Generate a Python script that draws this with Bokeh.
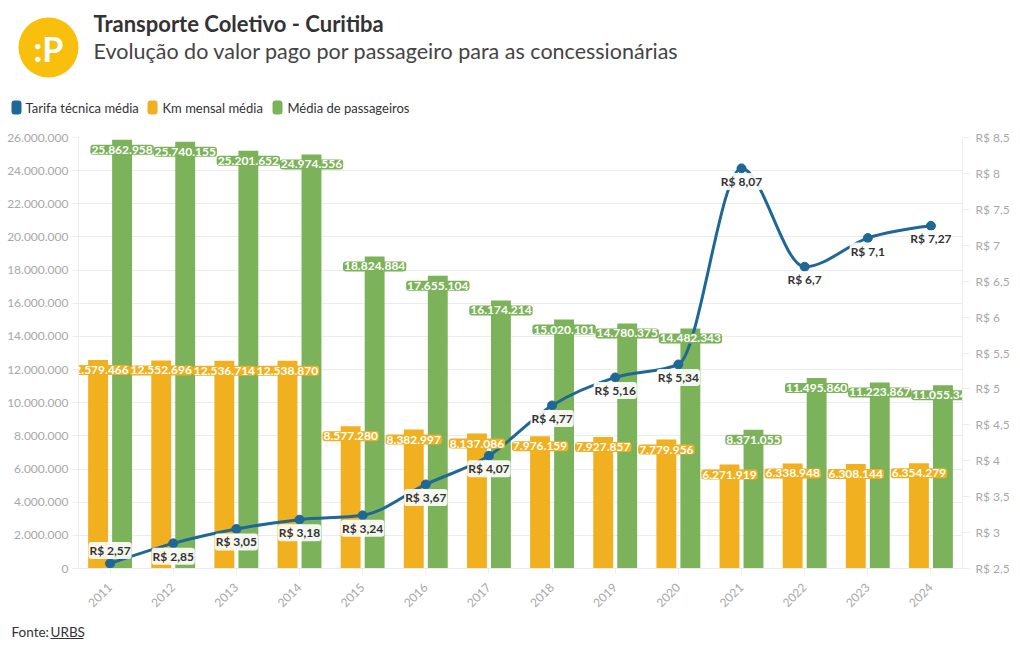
from bokeh.plotting import figure
from bokeh.models import Range1d, LinearAxis, FixedTicker, ColumnDataSource
from bokeh.embed import file_html
from bokeh.resources import INLINE
from bokeh.core.properties import value
import math

# ---------------- data ----------------
years = ["2011", "2012", "2013", "2014", "2015", "2016", "2017",
         "2018", "2019", "2020", "2021", "2022", "2023", "2024"]
tarifa = [2.57, 2.85, 3.05, 3.18, 3.24, 3.67, 4.07, 4.77, 5.16, 5.34,
          8.07, 6.7, 7.1, 7.27]
km_mensal = [12579466, 12552696, 12536714, 12538870, 8577280, 8382997,
             8137086, 7976159, 7927857, 7779956, 6271919, 6338948,
             6308144, 6354279]
passageiros = [25862958, 25740155, 25201652, 24974556, 18824884, 17655104,
               16174214, 15020101, 14780375, 14482343, 8371055, 11495860,
               11223867, 11055340]
left_ticks = [i * 2000000 for i in range(14)]
right_ticks = [2.5, 3, 3.5, 4, 4.5, 5, 5.5, 6, 6.5, 7, 7.5, 8, 8.5]
series_names = ["Tarifa técnica média", "Km mensal média", "Média de passageiros"]

# ---------------- style ----------------
FONT = "Lato"
BLUE = "#1f6795"
ORANGE = "#f0b020"
GREEN = "#7cb25a"
DARK = "#333333"
GREY = "#a8a8a8"
GRID = "#ececec"
W = 1012


def fmt_int(n):
    return f"{n:,}".replace(",", ".")


def fmt_real(v):
    s = f"{v:g}".replace(".", ",")
    return "R$ " + s


def blank(h):
    f = figure(width=W, height=h, x_range=Range1d(0, W), y_range=Range1d(h, 0),
               output_backend="svg", toolbar_location=None, min_border=0)
    f.axis.visible = False
    f.grid.visible = False
    f.outline_line_color = None
    return f


# ---------------- header ----------------
hdr = blank(120)
hdr.circle(x=[48], y=[47], radius=30, fill_color="#f9bf0d", line_color=None)
hdr.text(x=[48], y=[48], text=[":P"], text_font=value(FONT), text_font_style="bold",
         text_font_size="34px", text_color="white", text_align="center",
         text_baseline="middle")
hdr.text(x=[93], y=[23], text=["Transporte Coletivo - Curitiba"], text_font=value(FONT),
         text_font_style="bold", text_font_size="22px", text_color=DARK,
         text_baseline="middle")
hdr.text(x=[93], y=[50], text=["Evolução do valor pago por passageiro para as concessionárias"],
         text_font=value(FONT), text_font_size="21.5px", text_color="#444444",
         text_baseline="middle")
leg_sq_x = [16, 152, 277]
leg_tx_x = [25, 162, 287]
hdr.rect(x=leg_sq_x, y=[107, 107, 107], width=10, height=14, fill_color=[BLUE, ORANGE, GREEN],
         line_color=None, border_radius=3)
hdr.text(x=leg_tx_x, y=[107, 107, 107], text=series_names, text_font=value(FONT),
         text_font_size="13px", text_color=DARK, text_baseline="middle")

# ---------------- main chart ----------------
n = len(years)
xs = list(range(n))
p = figure(width=W, height=495, x_range=Range1d(-0.5, n - 0.5),
           y_range=Range1d(0, 26000000), output_backend="svg",
           toolbar_location=None, min_border_left=78, min_border_right=48,
           min_border_top=17, min_border_bottom=47)
p.extra_y_ranges = {"tarifa": Range1d(2.5, 8.5)}
p.outline_line_color = None
p.xgrid.visible = False
p.ygrid.grid_line_color = GRID
p.ygrid.ticker = FixedTicker(ticks=left_ticks)

p.yaxis.ticker = FixedTicker(ticks=left_ticks)
p.yaxis.major_label_overrides = {t: fmt_int(t) for t in left_ticks}
p.yaxis.major_tick_out = 6
p.yaxis.major_tick_in = 0
p.yaxis.minor_tick_line_color = None
p.yaxis.major_label_standoff = 4

p.xaxis.ticker = FixedTicker(ticks=xs)
p.xaxis.major_label_overrides = {i: y for i, y in enumerate(years)}
p.xaxis.major_label_orientation = math.pi / 4
p.xaxis.major_tick_out = 5
p.xaxis.major_tick_in = 0
p.xaxis.minor_tick_line_color = None
p.xaxis.major_label_standoff = 12

rax = LinearAxis(y_range_name="tarifa", ticker=FixedTicker(ticks=right_ticks))
rax.major_label_overrides = {t: fmt_real(t) for t in right_ticks}
rax.major_tick_out = 7
rax.major_tick_in = 0
rax.minor_tick_line_color = None
rax.major_label_standoff = 6
p.add_layout(rax, "right")

for ax in [p.xaxis[0], p.yaxis[0], rax]:
    ax.axis_line_color = GRID
    ax.major_tick_line_color = GRID
    ax.major_label_text_color = GREY
    ax.major_label_text_font = FONT
    ax.major_label_text_font_size = "12px"

off = 0.19
bw = 0.315
src = ColumnDataSource(dict(
    xo=[x - off for x in xs], xg=[x + off for x in xs],
    km=km_mensal, ps=passageiros,
    km_t=[fmt_int(v) for v in km_mensal], ps_t=[fmt_int(v) for v in passageiros],
))
p.vbar(x="xo", top="km", width=bw, source=src, fill_color=ORANGE, line_color=None)
p.vbar(x="xg", top="ps", width=bw, source=src, fill_color=GREEN, line_color=None)


# smooth (monotone cubic) line through the tarifa points
def slopes(xv, yv):
    m = len(xv)
    t = [0.0] * m
    for i in range(1, m - 1):
        h0 = xv[i] - xv[i - 1]
        h1 = xv[i + 1] - xv[i]
        s0 = (yv[i] - yv[i - 1]) / h0
        s1 = (yv[i + 1] - yv[i]) / h1
        pp = (s0 * h1 + s1 * h0) / (h0 + h1)
        sg = (1 if s0 > 0 else -1 if s0 < 0 else 0) + (1 if s1 > 0 else -1 if s1 < 0 else 0)
        t[i] = sg * min(abs(s0), abs(s1), 0.5 * abs(pp)) if sg != 0 else 0.0
    h = xv[1] - xv[0]
    t[0] = (3 * (yv[1] - yv[0]) / h - t[1]) / 2
    h = xv[-1] - xv[-2]
    t[-1] = (3 * (yv[-1] - yv[-2]) / h - t[-2]) / 2
    return t


tt = slopes(xs, tarifa)
bz = dict(x0=[], y0=[], x1=[], y1=[], cx0=[], cy0=[], cx1=[], cy1=[])
for i in range(n - 1):
    dx = xs[i + 1] - xs[i]
    bz["x0"].append(xs[i]); bz["y0"].append(tarifa[i])
    bz["x1"].append(xs[i + 1]); bz["y1"].append(tarifa[i + 1])
    bz["cx0"].append(xs[i] + dx / 3); bz["cy0"].append(tarifa[i] + dx * tt[i] / 3)
    bz["cx1"].append(xs[i + 1] - dx / 3); bz["cy1"].append(tarifa[i + 1] - dx * tt[i + 1] / 3)
p.bezier(source=ColumnDataSource(bz), x0="x0", y0="y0", x1="x1", y1="y1",
         cx0="cx0", cy0="cy0", cx1="cx1", cy1="cy1", line_color=BLUE,
         line_width=3, y_range_name="tarifa")
p.scatter(x=xs, y=tarifa, size=9, fill_color=BLUE, line_color=BLUE,
          y_range_name="tarifa")

lab_font = dict(text_font=value(FONT), text_font_style="bold", text_font_size="12px",
                text_align="center", text_baseline="middle", padding=1, border_radius=3)
p.text(x="xo", y="km", text="km_t", source=src, y_offset=10, text_color="white",
       background_fill_color=ORANGE, **lab_font)
p.text(x="xg", y="ps", text="ps_t", source=src, y_offset=10, text_color="white",
       background_fill_color=GREEN, **lab_font)

t_offsets = [-13] + [13] * (n - 1)
p.text(x=xs, y=tarifa, text=[fmt_real(v) for v in tarifa], y_offset=t_offsets,
       text_color=DARK, background_fill_color="white", background_fill_alpha=0.9,
       y_range_name="tarifa", **lab_font)

# ---------------- footer ----------------
ftr = blank(27)
ftr.text(x=[11], y=[16], text=["Fonte: "], text_font=value(FONT), text_font_size="13.5px",
         text_color=DARK, text_baseline="middle")
ftr.text(x=[50], y=[16], text=["URBS"], text_font=value(FONT), text_font_size="13.5px",
         text_color=DARK, text_baseline="middle")
ftr.segment(x0=[50], y0=[23], x1=[83], y1=[23], line_color=DARK, line_width=1)

open("out.html", "w").write(file_html([hdr, p, ftr], INLINE))
